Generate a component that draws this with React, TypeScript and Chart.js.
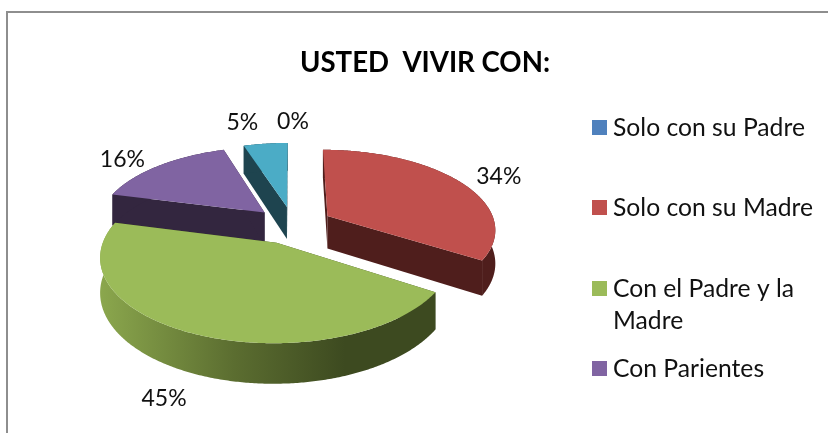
import React, { useEffect, useRef } from "react";
import { Chart, registerables } from "chart.js";

Chart.register(...registerables);

const categories = ["Solo con su Padre", "Solo con su Madre", "Con el Padre y la Madre", "Con Parientes", "Otros"];
const values = [0, 34, 45, 16, 5];
const percentLabels = ["0%", "34%", "45%", "16%", "5%"];
const legendLines = [["Solo con su Padre"], ["Solo con su Madre"], ["Con el Padre y la", "Madre"], ["Con Parientes"]];
const topColors = ["#4f81bd", "#c0504d", "#9bbb59", "#8064a2", "#4bacc6"];
const wallColors = ["#28415f", "#4f1e1c", "#56672d", "#33263f", "#1e444f"];

const FONT = "Lato, Carlito, sans-serif";
const CX = 293, CY = 225, D = 1100, SQUASH = 0.47, DEPTH = 33;
const drawOrder = [0, 4, 3, 1, 2];
const labelRadius = [1.12, 1.12, 1.12, 1.12, 1.12];
const labelNudge = [[0, -15], [24, -1], [-17, 52], [-25, -1], [-21, -15]];
const legendX = 592, legendTextX = 613;
const legendBaselines = [136, 216, 297, 377];
const LINE = 32;

function project(t: number, r: number, off: number, mid: number, z: number): [number, number] {
  const X = r * Math.sin(t) + off * Math.sin(mid);
  const Y = r * Math.cos(t) + off * Math.cos(mid);
  const k = D / (D + Y);
  return [CX + X * k, CY - Y * SQUASH * k + z * k];
}

const pie3d = {
  id: "pie3d",
  beforeDraw(chart: any) {
    const ctx = chart.ctx;
    ctx.save();
    ctx.fillStyle = "#fff";
    ctx.fillRect(0, 0, 828, 433);
    ctx.strokeStyle = "#8e8e8e";
    ctx.lineWidth = 2;
    ctx.strokeRect(7, 12, 900, 500);
    ctx.restore();
  },
  beforeDatasetDraw(chart: any) {
    const ctx = chart.ctx;
    const arcs = chart.getDatasetMeta(0).data;
    ctx.save();
    for (const i of drawOrder) {
      const arc = arcs[i];
      const a0 = arc.startAngle + Math.PI / 2;
      const a1 = arc.endAngle + Math.PI / 2;
      if (a1 - a0 < 1e-4) continue;
      const r = arc.outerRadius;
      const off = arc.options.offset;
      const mid = (a0 + a1) / 2;
      const n = Math.max(2, Math.ceil((a1 - a0) / 0.01));
      const rim = (z: number) => {
        const pts: [number, number][] = [];
        for (let s = 0; s <= n; s++) pts.push(project(a0 + ((a1 - a0) * s) / n, r, off, mid, z));
        return pts;
      };
      const top = rim(0);
      const bottom = rim(DEPTH);
      const apexT = project(0, 0, off, mid, 0);
      const apexB = project(0, 0, off, mid, DEPTH);
      const poly = (p: [number, number][], fill: any) => {
        ctx.beginPath();
        p.forEach(([x, y], idx) => (idx ? ctx.lineTo(x, y) : ctx.moveTo(x, y)));
        ctx.closePath();
        ctx.fillStyle = fill;
        ctx.fill();
      };
      let wall: any = wallColors[i];
      let cut: any = wallColors[i];
      if (i === 2) {
        const g = ctx.createLinearGradient(100, 0, 345, 0);
        g.addColorStop(0, "#8ba74d");
        g.addColorStop(0.55, "#5b6d30");
        g.addColorStop(1, "#3d4a20");
        wall = g;
        cut = "#3d4a20";
      }
      poly([apexT, top[0], bottom[0], apexB], cut);
      poly([apexT, top[n], bottom[n], apexB], cut);
      poly([...top, ...bottom.slice().reverse()], wall);
      poly([apexT, ...top], arc.options.backgroundColor);
    }
    ctx.restore();
    return false;
  },
  afterDatasetsDraw(chart: any) {
    const ctx = chart.ctx;
    const arcs = chart.getDatasetMeta(0).data;
    ctx.save();
    ctx.fillStyle = "#111";
    ctx.font = `23px ${FONT}`;
    ctx.textAlign = "center";
    ctx.textBaseline = "middle";
    arcs.forEach((arc: any, i: number) => {
      const a0 = arc.startAngle + Math.PI / 2;
      const a1 = arc.endAngle + Math.PI / 2;
      const mid = (a0 + a1) / 2;
      const [x, y] = project(mid, arc.outerRadius * labelRadius[i], arc.options.offset, mid, 0);
      ctx.fillText(percentLabels[i], x + labelNudge[i][0], y + labelNudge[i][1]);
    });
    ctx.font = `24.7px ${FONT}`;
    ctx.textAlign = "left";
    ctx.textBaseline = "alphabetic";
    legendLines.forEach((lines, i) => {
      const b = legendBaselines[i];
      ctx.fillStyle = topColors[i];
      ctx.fillRect(legendX, b - 16, 15, 15);
      ctx.fillStyle = "#111";
      lines.forEach((t, j) => ctx.fillText(t, legendTextX, b + j * LINE));
    });
    ctx.restore();
  },
};

export default function App() {
  const ref = useRef<HTMLCanvasElement>(null);
  useEffect(() => {
    document.body.style.margin = "0";
    const chart = new Chart(ref.current as HTMLCanvasElement, {
      type: "pie",
      data: {
        labels: categories,
        datasets: [{ data: values, backgroundColor: topColors, borderWidth: 0, offset: 40, radius: 168, clip: false } as any],
      },
      options: {
        animation: false,
        responsive: false,
        layout: { padding: { left: 22 } },
        plugins: {
          legend: { display: false },
          tooltip: { enabled: false },
          title: {
            display: true,
            text: "USTED  VIVIR CON:",
            color: "#000",
            font: { family: FONT, size: 27.6, weight: "bold" },
            padding: { top: 47, bottom: 0 },
          },
        },
      } as any,
      plugins: [pie3d as any],
    });
    return () => chart.destroy();
  }, []);
  return <canvas ref={ref} width={828} height={433} style={{ display: "block" }} />;
}
